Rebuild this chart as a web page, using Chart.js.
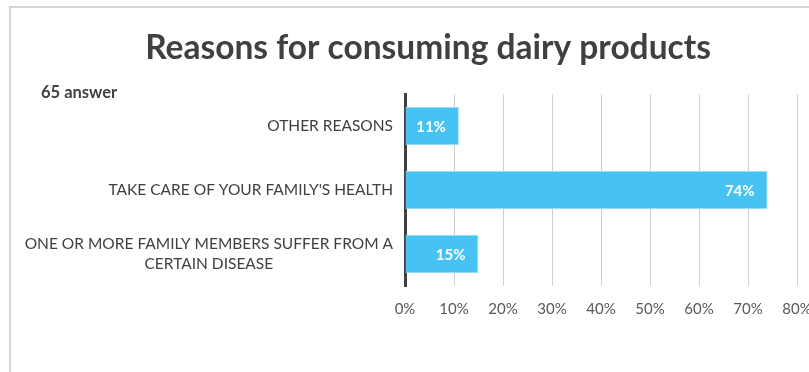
<!DOCTYPE html>
<html>
<head>
<meta charset="utf-8">
<title>Reasons for consuming dairy products</title>
<script src="https://cdn.jsdelivr.net/npm/chart.js@4.4.0/dist/chart.umd.min.js"></script>
<style>
  html, body { margin: 0; padding: 0; background: #fff; width: 809px; height: 372px; overflow: hidden; }
  #frame {
    position: absolute; left: 9px; top: 6px; width: 840px; height: 400px;
    border-left: 2px solid #d4d4d4; border-top: 2px solid #d4d4d4;
  }
  #chart { position: absolute; left: 0; top: 0; }
  #answers {
    position: absolute; left: 30px; top: 74px;
    font: bold 16.5px Lato, sans-serif; color: #404040;
  }
</style>
</head>
<body>
<div id="frame">
  <canvas id="chart" width="834" height="364"></canvas>
  <div id="answers">65 answer</div>
</div>
<script>
const categories = [
  ["OTHER REASONS"],
  ["TAKE CARE OF YOUR FAMILY'S HEALTH"],
  ["ONE OR MORE FAMILY MEMBERS SUFFER FROM A", "CERTAIN DISEASE"]
];
const shares = [11, 74, 15];
const tickValues = [0, 10, 20, 30, 40, 50, 60, 70, 80];

const FONT = "Lato, sans-serif";

// category names to the left of the axis, each block right-aligned, lines centred within it
const categoryLabels = {
  id: "categoryLabels",
  afterDraw(chart) {
    const { ctx, chartArea } = chart;
    const yScale = chart.scales.y;
    ctx.save();
    ctx.font = "15.5px " + FONT;
    ctx.fillStyle = "#404040";
    ctx.textAlign = "center";
    ctx.textBaseline = "middle";
    categories.forEach((lines, i) => {
      const y = yScale.getPixelForValue(i);
      const w = Math.max(...lines.map(l => ctx.measureText(l).width));
      const cx = chartArea.left - 12 - w / 2;
      const lh = 20;
      const y0 = y - (lines.length - 1) * lh / 2;
      lines.forEach((l, j) => ctx.fillText(l, cx, y0 + j * lh));
    });
    ctx.restore();
  }
};

// value labels inside the end of each bar
const valueLabels = {
  id: "valueLabels",
  afterDatasetsDraw(chart) {
    const { ctx } = chart;
    const meta = chart.getDatasetMeta(0);
    ctx.save();
    ctx.font = "bold 15px " + FONT;
    ctx.fillStyle = "#ffffff";
    ctx.textAlign = "right";
    ctx.textBaseline = "middle";
    meta.data.forEach((bar, i) => {
      ctx.fillText(shares[i] + "%", bar.x - 13, bar.y + 1);
    });
    ctx.restore();
  }
};

new Chart(document.getElementById("chart"), {
  type: "bar",
  data: {
    labels: categories.map(c => c.join(" ")),
    datasets: [{
      data: shares,
      backgroundColor: "#46c3f2",
      borderColor: "#9cdcf6",
      borderWidth: 1,
      borderSkipped: "left",
      barPercentage: 0.6,
      categoryPercentage: 1
    }]
  },
  options: {
    indexAxis: "y",
    responsive: false,
    animation: false,
    devicePixelRatio: 1,
    layout: { padding: { left: 48, top: 0, right: 48, bottom: 40 } },
    plugins: {
      legend: { display: false },
      tooltip: { enabled: false },
      title: {
        display: true,
        text: "Reasons for consuming dairy products",
        color: "#404040",
        font: { family: FONT, size: 33.5, weight: "bold" },
        padding: { top: 20, bottom: 26 }
      }
    },
    scales: {
      x: {
        min: 0,
        max: 80,
        afterBuildTicks(scale) {
          scale.ticks = tickValues.map(v => ({ value: v }));
        },
        ticks: {
          callback: v => v + "%",
          color: "#595959",
          font: { family: FONT, size: 15 },
          padding: 14,
          maxRotation: 0
        },
        grid: { color: "#d0d0d0", drawTicks: false },
        border: { display: false }
      },
      y: {
        afterFit(scale) {
          scale.width = 346;
        },
        ticks: { display: false },
        grid: { display: false, drawTicks: false },
        border: { color: "#404040", width: 3 }
      }
    }
  },
  plugins: [categoryLabels, valueLabels]
});
</script>
</body>
</html>
